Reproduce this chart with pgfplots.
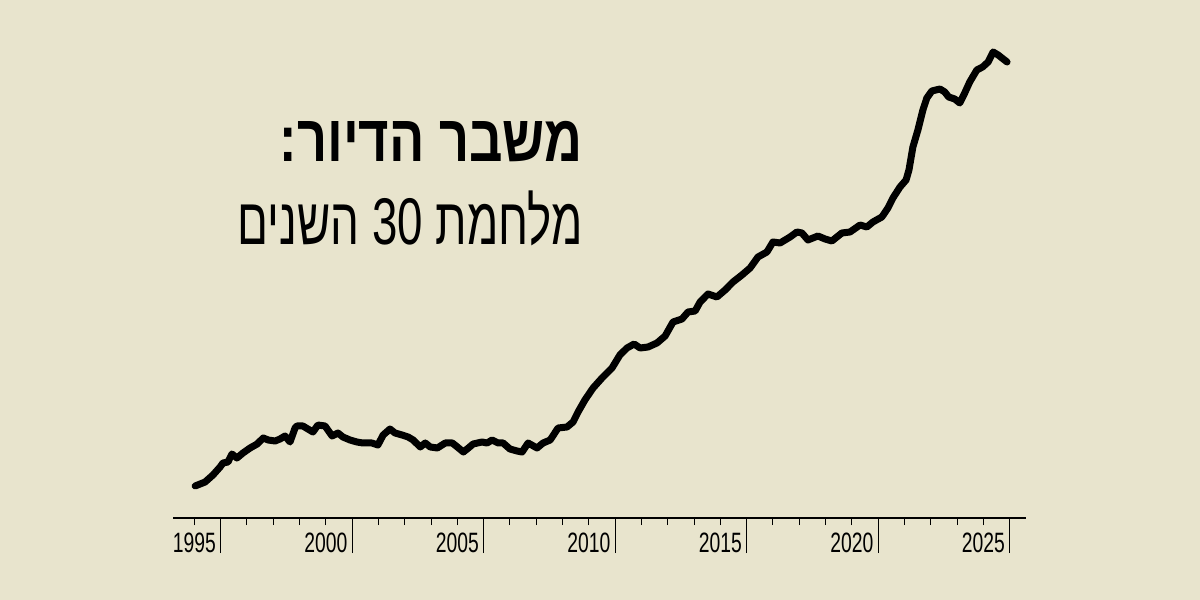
\documentclass[border=0pt]{standalone}
\usepackage{fontspec}
\usepackage{graphicx}
\usepackage{pgfplots}
\pgfplotsset{compat=1.18}
\TeXXeTstate=1
\setmainfont{Liberation Sans}
\newfontfamily\hebfont[Script=Hebrew]{Liberation Sans}
\newfontfamily\tickfont[FakeStretch=0.69]{Liberation Sans}
\definecolor{bg}{RGB}{232,228,205}

\begin{document}
\begin{tikzpicture}
  \fill[bg] (0bp,0bp) rectangle (600bp,300bp);
  \useasboundingbox (0bp,0bp) rectangle (600bp,300bp);

  % title block, right aligned
  \node[anchor=base east, inner sep=0pt] at (291.5bp,219bp)
    {\resizebox{151.5bp}{\height}{\hebfont\bfseries\fontsize{33bp}{38bp}\selectfont\beginR משבר הדיור:\endR}};
  \node[anchor=base east, inner sep=0pt] at (291.5bp,177.5bp)
    {\resizebox{172.5bp}{\height}{\hebfont\fontsize{33bp}{38bp}\selectfont\beginR מלחמת \beginL 30\endL{} השנים\endR}};

  \begin{axis}[
      at={(86.5bp,41bp)}, anchor=south west,
      scale only axis, width=426.5bp, height=239bp,
      xmin=1994.19, xmax=2026.62, ymin=0, ymax=478,
      axis x line*=bottom, hide y axis,
      axis line style={line width=1bp, -},
      clip=false,
      xtick={1995,2000,...,2025},
      minor xtick={1995,...,2026},
      tick align=outside,
      major tick length=3.5bp, minor tick length=3.5bp,
      tick style={black, line width=0.5bp},
      extra x ticks={1996,2001,...,2026},
      extra x tick labels={},
      extra x tick style={major tick length=17.5bp},
      /pgf/number format/1000 sep={},
      /pgf/number format/assume math mode=true,
      xticklabel style={font=\tickfont\fontsize{14bp}{15bp}\selectfont, anchor=north, inner sep=0pt},
      xticklabel shift=4bp,
    ]
    \addplot[black, line width=3.5bp, line join=round, line cap=round] coordinates {
      (1995.03,32) (1995.41,36) (1995.71,43) (1995.98,51) (1996.09,55) (1996.28,56)
      (1996.43,64) (1996.62,60) (1996.85,65) (1997.12,70) (1997.39,74) (1997.62,80)
      (1997.81,78) (1998.07,77) (1998.26,79) (1998.45,82) (1998.64,76) (1998.83,90)
      (1998.90,92) (1999.13,92) (1999.32,89) (1999.51,86) (1999.70,93) (1999.97,92)
      (2000.24,82) (2000.46,85) (2000.65,81) (2000.92,78) (2001.18,76) (2001.41,75)
      (2001.75,75) (2001.98,73) (2002.18,83) (2002.44,89) (2002.63,85) (2002.90,83)
      (2003.13,81) (2003.32,78) (2003.59,71) (2003.78,75) (2003.97,71) (2004.24,70)
      (2004.54,75) (2004.81,75) (2005.00,71) (2005.23,66) (2005.42,70) (2005.60,74)
      (2005.94,76) (2006.13,75) (2006.32,78) (2006.55,75) (2006.74,75) (2007.00,69)
      (2007.27,67) (2007.46,66) (2007.69,75) (2008.03,70) (2008.26,75) (2008.53,78)
      (2008.83,90) (2009.17,91) (2009.40,96) (2009.59,106) (2009.85,118) (2010.16,130)
      (2010.50,140) (2010.88,150) (2011.18,163) (2011.45,170) (2011.72,174) (2011.95,170)
      (2012.25,171) (2012.59,175) (2012.90,182) (2013.20,196) (2013.54,199) (2013.77,206)
      (2014.04,207) (2014.23,216) (2014.53,224) (2014.87,221) (2015.18,228) (2015.48,236)
      (2015.82,243) (2016.13,250) (2016.43,261) (2016.77,266) (2017.00,276) (2017.27,275)
      (2017.65,281) (2017.91,286) (2018.10,285) (2018.33,278) (2018.71,282) (2018.98,279)
      (2019.24,277) (2019.62,285) (2019.93,286) (2020.31,293) (2020.57,291) (2020.80,296)
      (2021.14,301) (2021.37,310) (2021.56,320) (2021.83,331) (2022.06,338) (2022.17,348)
      (2022.32,371) (2022.51,388) (2022.70,408) (2022.85,420) (2023.04,427) (2023.35,429)
      (2023.53,426) (2023.68,421) (2023.91,419) (2024.10,415) (2024.29,425) (2024.48,436)
      (2024.75,448) (2024.97,451) (2025.18,456) (2025.37,466) (2025.56,463) (2025.90,456)
    };
  \end{axis}
\end{tikzpicture}
\end{document}
